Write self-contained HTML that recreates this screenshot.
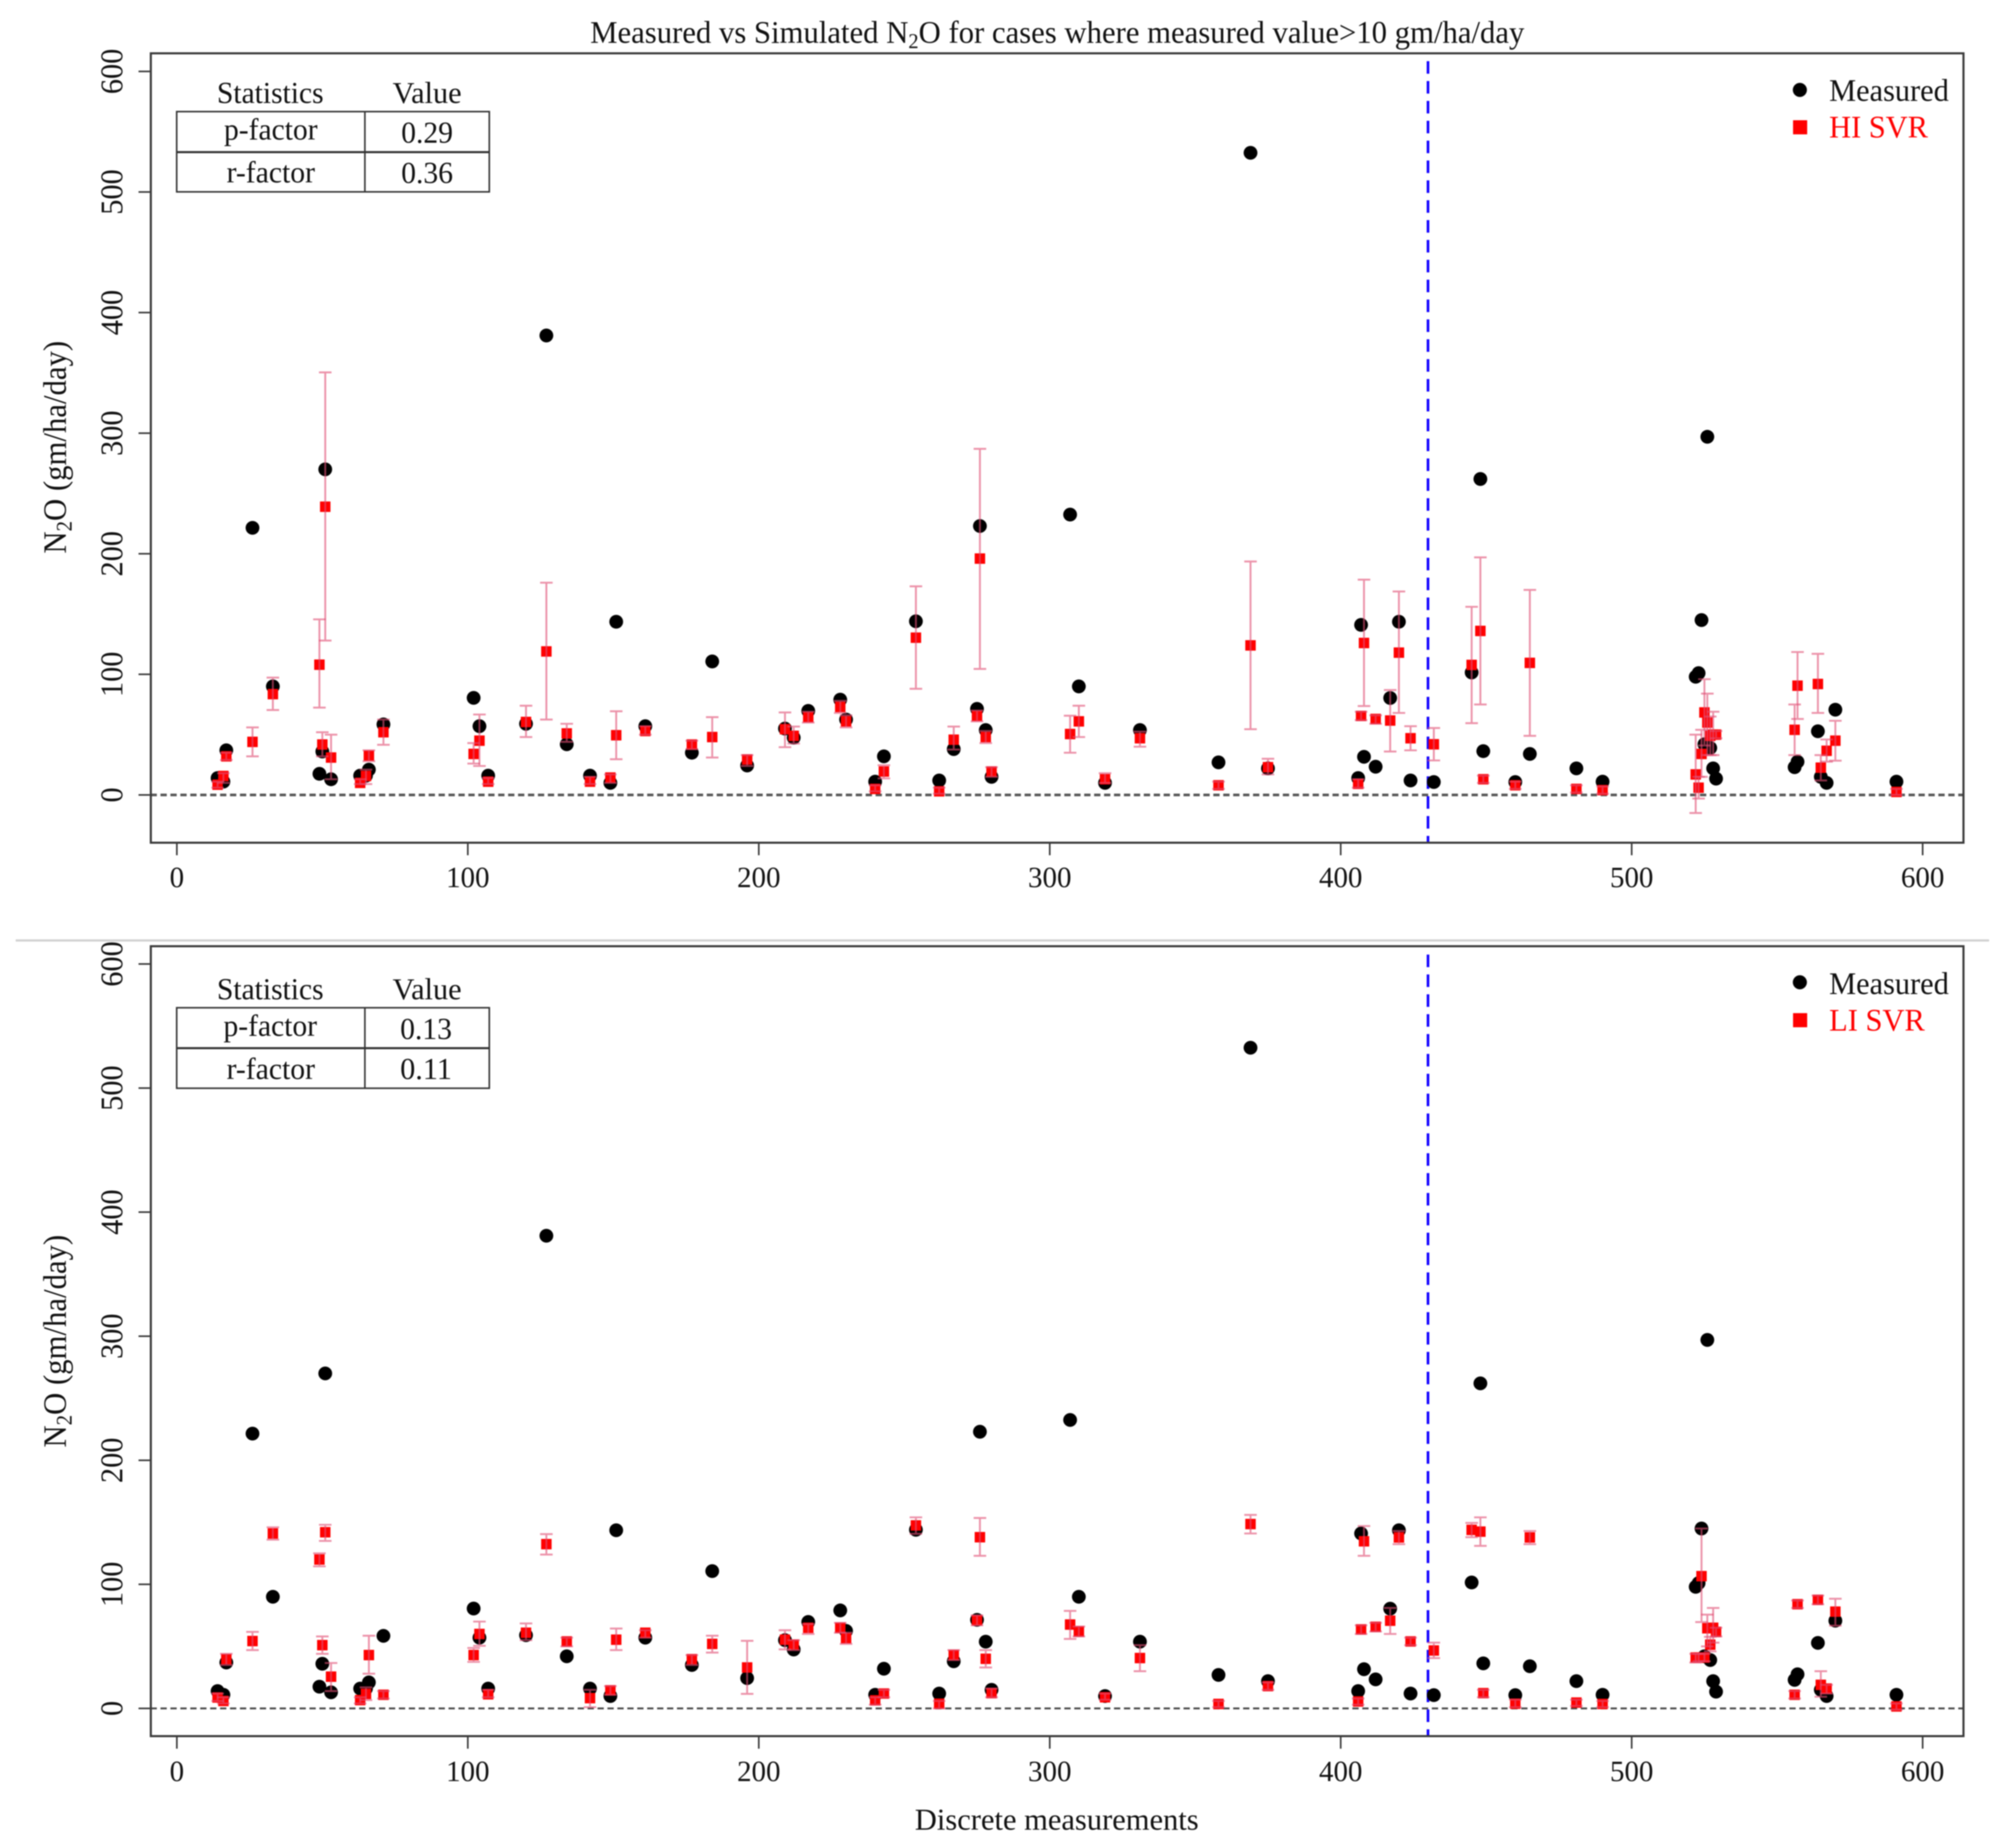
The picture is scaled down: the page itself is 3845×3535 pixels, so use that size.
<!DOCTYPE html>
<html lang="en">
<head>
<meta charset="utf-8">
<title>Measured vs Simulated N2O</title>
<style>
html,body{margin:0;padding:0;background:#fff;}
body{width:3845px;height:3535px;overflow:hidden;}
svg{display:block;filter:blur(1.1px);}
text{font-family:"Liberation Serif","Times New Roman",serif;fill:#111;}
</style>
</head>
<body>
<svg id="chart" xmlns="http://www.w3.org/2000/svg" width="3845" height="3535" viewBox="0 0 3845 3535">
  <rect x="0" y="0" width="3845" height="3535" fill="#fff"/>
  <text x="1129" y="82" font-size="60" textLength="1787" lengthAdjust="spacingAndGlyphs">Measured vs Simulated N<tspan font-size="40" dy="10">2</tspan><tspan dy="-10">O for cases where measured value&gt;10 gm/ha/day</tspan></text>
  <line x1="30" y1="1799" x2="3805" y2="1799" stroke="#cfcfcf" stroke-width="4"/>
  <text x="1750" y="3500" font-size="58" textLength="543" lengthAdjust="spacingAndGlyphs">Discrete measurements</text>

  <g fill="none" stroke="#333" stroke-width="3">
    <rect x="338" y="213.5" width="598" height="153.5"/>
    <line x1="338" y1="291" x2="936" y2="291" stroke-width="4"/>
    <line x1="698" y1="213.5" x2="698" y2="367"/>
  </g>
  <g font-size="58" text-anchor="middle">
    <text x="517" y="197" textLength="204" lengthAdjust="spacingAndGlyphs" stroke="none">Statistics</text>
    <text x="817" y="197" textLength="132" lengthAdjust="spacingAndGlyphs">Value</text>
    <text x="518" y="267" textLength="179" lengthAdjust="spacingAndGlyphs">p-factor</text>
    <text x="817" y="273" textLength="99" lengthAdjust="spacingAndGlyphs">0.29</text>
    <text x="518" y="349" textLength="169" lengthAdjust="spacingAndGlyphs">r-factor</text>
    <text x="817" y="350" textLength="99" lengthAdjust="spacingAndGlyphs">0.36</text>
  </g>

  <g fill="none" stroke="#333" stroke-width="3">
    <rect x="338" y="1927.7" width="598" height="154"/>
    <line x1="338" y1="2005" x2="936" y2="2005" stroke-width="4"/>
    <line x1="698" y1="1927.7" x2="698" y2="2081.7"/>
  </g>
  <g font-size="58" text-anchor="middle">
    <text x="517" y="1911.7" textLength="204" lengthAdjust="spacingAndGlyphs">Statistics</text>
    <text x="817" y="1911.7" textLength="132" lengthAdjust="spacingAndGlyphs">Value</text>
    <text x="517" y="1981.7" textLength="179" lengthAdjust="spacingAndGlyphs">p-factor</text>
    <text x="815" y="1987.7" textLength="99" lengthAdjust="spacingAndGlyphs">0.13</text>
    <text x="518" y="2064" textLength="169" lengthAdjust="spacingAndGlyphs">r-factor</text>
    <text x="815" y="2064" textLength="99" lengthAdjust="spacingAndGlyphs">0.11</text>
  </g>

  <g>
    <circle cx="3443" cy="172" r="13.5" fill="#000"/>
    <text x="3499" y="193" font-size="60" textLength="229" lengthAdjust="spacingAndGlyphs">Measured</text>
    <rect x="3430" y="230" width="27" height="27" fill="#f00"/>
    <text x="3499" y="263" font-size="60" textLength="189" lengthAdjust="spacingAndGlyphs" style="fill:#f00">HI SVR</text>
  </g>
  <g>
    <circle cx="3443" cy="1879" r="13.5" fill="#000"/>
    <text x="3499" y="1901.7" font-size="60" textLength="229" lengthAdjust="spacingAndGlyphs">Measured</text>
    <rect x="3430" y="1938" width="27" height="27" fill="#f00"/>
    <text x="3499" y="1971.7" font-size="60" textLength="183" lengthAdjust="spacingAndGlyphs" style="fill:#f00">LI SVR</text>
  </g>
</svg>
<script>
const xTicks = [0,100,200,300,400,500,600];
const yTicks = [0,100,200,300,400,500,600];
const splitIndex = [430];
const zeroReference = [0];

const measurementIndex = [14,16,17,26,33,49,50,51,53,63,65,66,71,102,104,107,120,127,134,142,149,151,161,177,184,196,209,212,217,228,230,240,243,254,262,267,275,276,278,280,307,310,319,331,358,369,375,406,407,408,412,417,420,424,432,445,448,449,460,465,481,490,522,523,524,525,526,527,528,529,556,557,564,565,567,570,591];

const measuredValues = [14,11,37,221.5,90,17.5,36,270,13,16,16,21,58.5,80.5,57,16,59,381,42,16,10,143.6,57,35,110.7,24.4,55,47.5,69.7,79,62.5,11,32,144,12,38,71.4,223,53.8,15,232.5,90,10,53.8,27,532.5,22,14,141,31.6,23.4,80.4,143.6,12,10.7,101.5,262,36.3,10.7,34,22,11,98,101,145,42,297,39,22,13.5,23,27.5,52.8,15,10,70.7,11];

const hiSim = [8.5,15.7,32,44,83.6,108,41.8,239,31,10,15.7,32.6,52,34,45,11,60.5,119,51,11,14.4,49.5,53,41.8,48,29.4,54.5,49,64.5,73,61,5,19.4,130.4,3,45.8,65.5,196,48,19.4,50.5,61,13,47,8,124,23,9.2,65.5,126,63,61.7,118,47,42,107.8,136,13,8,109.5,5,4,17,6,34,68.4,60,49,50,50,54,90.6,92,22.6,36.6,45,2.5];
const hiLow = [6,10,29,32,70.4,72.4,32,128,13,9,9,28,41.6,26,24,9,48,62.5,44,9,10,29.6,50,38,31,24,39.6,42.6,60,68,56,3,13.7,88,1,37.6,61,104.5,43,15,35,48,10,40,5,54.5,17,6,62,73.7,59,36,68,37,28.6,59.5,75,10,5,49,2,1,-15,-3,15,41,33,33,33,47,33,63,68,12,27.6,28.4,0];
const hiHigh = [11,18,35,56,97.3,145.6,52,350.4,50,13,21,37,62.5,43,66.7,14,74,176,59,15,17,69.4,57,45,64.5,33,68.4,56.7,69,78,66,8,24.6,173,6,56.7,70,287,53,23,65.7,74,18,52.5,11,193.6,30,13,69,178.5,66,87,168.7,57,55.5,156,197,16,11,170,8,7,50,15,54,96,84,65,69,53,75,118.5,117,33,46,61.5,5];

const liSim = [8.8,6,39.7,54.3,141,120,51,142,25.6,6.7,11.7,43,11,43,60,11.4,61,132.4,54,8.3,14.6,55.4,61,39.7,52,33,55.4,51.4,65,65,56.6,6.5,12,147.5,3.8,43,71,138,40,12.3,67.6,62,9,40.6,3.6,148.6,18,5.6,63.7,134.7,65.8,70.7,137.8,54,46.7,143.9,142.5,12.3,3.8,137.8,4.7,3.6,41,41,106.6,41,64.6,51.4,65,61.7,11,84,87.5,19,16,78,1.6];
const liLow = [6,4,35,47,136,114.5,44,135,14,4,6.7,28,8,37.5,50.5,9,55,124,50,1,11,47,57,35,45,11.7,47.6,47,60,61,52,3,9,140.7,0,39,67,123,33,9,56,58,7,30,1,141,15,3,60,123,62,60,132.4,51,40.6,138,131,9,1,132.4,2,1,37,38,69.6,38,50,46,53,58,8,81,84,9.4,12,66.7,-1];
const liHigh = [12,9,44,61.7,146,125,58,148,36.6,9,17,58.6,14,48.7,70,15,68.5,140.5,57,15,18,64.4,63,43,58.6,54.5,63,55,68,69,61,9,15,154,6,47,75,153.5,47,16,78.6,66,12,51,6,156,21,8,67,147,69,81,143,57,53,149.5,154,15,7,143,7,6,44,44,145,44,75.6,57.7,81,65,14,87,91,30,19,88.4,4];

const SVG_NS = 'http://www.w3.org/2000/svg';
const root = document.getElementById('chart');

function xScale(v){ return 338.3 + 5.566 * v; }

function add(parent, tag, attrs){
  const el = document.createElementNS(SVG_NS, tag);
  for (const k in attrs) el.setAttribute(k, attrs[k]);
  parent.appendChild(el);
  return el;
}

function drawPanel(p){
  const yScale = v => p.zeroY - p.unitY * v;

  const g = add(root, 'g', {});
  
  

  xTicks.forEach(t => {
    const tick = add(g, 'line', {x1:xScale(t), x2:xScale(t), y1:p.bottom, y2:p.bottom+24, stroke:'#333', 'stroke-width':3});
    
    
    const lab = add(g, 'text', {x:xScale(t), y:p.xLabelY, 'font-size':56, 'text-anchor':'middle', textLength:String(t).length*27.7, lengthAdjust:'spacingAndGlyphs'});
    lab.textContent = t;
    
    
  });

  yTicks.forEach(t => {
    const y = yScale(t);
    const tick = add(g, 'line', {x1:265, x2:288, y1:y, y2:y, stroke:'#333', 'stroke-width':3});
    
    
    const lab = add(g, 'text', {x:234, y:y, 'font-size':60, 'text-anchor':'middle', transform:'rotate(-90 234 ' + y + ')', textLength:String(t).length*29, lengthAdjust:'spacingAndGlyphs'});
    lab.textContent = t;
    
    
  });

  const yTitle = add(g, 'text', {x:126, y:p.yTitleStart, 'font-size':62, transform:'rotate(-90 126 ' + p.yTitleStart + ')', textLength:407, lengthAdjust:'spacingAndGlyphs'});
  
  
  yTitle.appendChild(document.createTextNode('N'));
  const sub = add(yTitle, 'tspan', {'font-size':42, dy:11});
  sub.textContent = '2';
  const rest = add(yTitle, 'tspan', {dy:-11});
  rest.textContent = 'O (gm/ha/day)';

  zeroReference.forEach(v => {
    const zero = add(g, 'line', {x1:288, x2:3756, y1:yScale(v), y2:yScale(v), stroke:p.zeroC, 'stroke-width':p.zeroW, 'stroke-dasharray':'12 7'});
    
    
  });

  splitIndex.forEach(v => {
    const split = add(g, 'line', {x1:xScale(v), x2:xScale(v), y1:p.splitTop, y2:p.bottom, stroke:'#10f', 'stroke-width':5, 'stroke-dasharray':'24 14'});
    
    
  });

  measurementIndex.forEach((x, i) => {
    const dot = add(g, 'circle', {cx:xScale(x), cy:yScale(measuredValues[i]), r:13.2, fill:'#000'});
    
    
  });

  measurementIndex.forEach((x, i) => {
    const sq = add(g, 'rect', {x:xScale(x)-10, y:yScale(p.sim[i])-10, width:20, height:20, fill:'#ff0000'});
    
    
  });

  measurementIndex.forEach((x, i) => {
    const cx = xScale(x), yl = yScale(p.low[i]), yh = yScale(p.high[i]);
    const err = add(g, 'path', {d:'M'+(cx-12)+' '+yl+'H'+(cx+12)+'M'+(cx-12)+' '+yh+'H'+(cx+12)+'M'+cx+' '+yl+'V'+yh, stroke:'#e04f75', 'stroke-opacity':0.62, 'stroke-width':3.6, fill:'none'});
    
    
  });

  const frame = add(g, 'rect', {x:288.5, y:p.top, width:3467.5, height:p.bottom-p.top, fill:'none', stroke:'#3a3a3a', 'stroke-width':4});
  
  
}

drawPanel({name:'hi-svr-panel', series:'hi-svr', sim:hiSim, low:hiLow, high:hiHigh, top:102, bottom:1612, zeroY:1520.6, unitY:2.3067, xLabelY:1697, yTitleStart:1059, splitTop:117, zeroW:5, zeroC:'#555'});
drawPanel({name:'li-svr-panel', series:'li-svr', sim:liSim, low:liLow, high:liHigh, top:1810, bottom:3321, zeroY:3268, unitY:2.3733, xLabelY:3407, yTitleStart:2769, splitTop:1826, zeroW:3.4, zeroC:'#444'});
</script>
</body>
</html>
